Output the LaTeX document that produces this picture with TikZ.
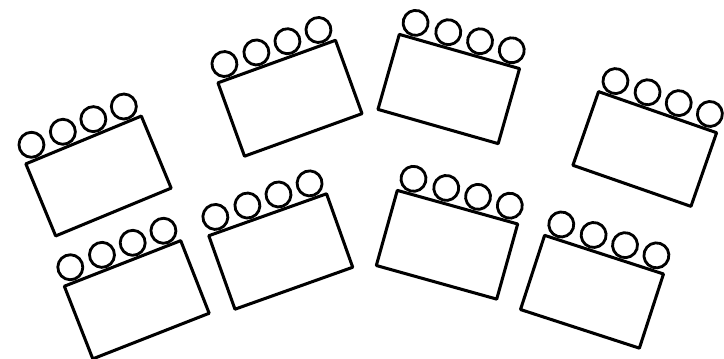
\documentclass[tikz,border=0pt]{standalone}
\usepackage{tikz}
\tikzset{
  tablebox/.style={draw=black, line width=2.6pt, line join=round},
  chair/.style={draw=black, line width=2.4pt}
}
% one table with its four chairs along the far side
\newcommand{\seatgroup}[3]{%
  \begin{scope}[shift={(#1,#2)}, rotate=#3]
    \draw[tablebox] (-62.5,-39) rectangle (62.5,39);
    \foreach \cx in {-50,-16,17,50}
      \draw[chair] (\cx,54.5) circle (12.5);
  \end{scope}}

\begin{document}
\begin{tikzpicture}[x=0.03cm, y=0.03cm]
  \useasboundingbox (0,0) rectangle (724,358);

  % Back row
  \seatgroup{98.5}{182}{22.5}
  \seatgroup{290}{259.75}{19.9}
  \seatgroup{448.75}{269}{-15.9}
  \seatgroup{644.75}{209}{-19.2}

  % Front row
  \seatgroup{136.75}{58.25}{21.4}
  \seatgroup{280.75}{106.5}{19.6}
  \seatgroup{447}{113.25}{-15.6}
  \seatgroup{592}{66.25}{-18}
\end{tikzpicture}
\end{document}
